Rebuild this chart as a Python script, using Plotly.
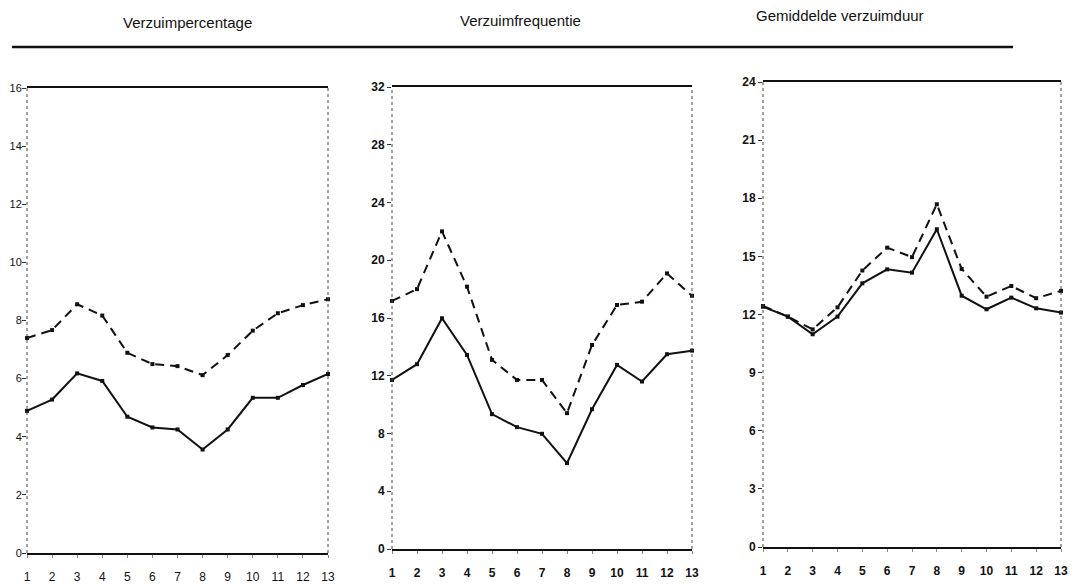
import plotly.graph_objects as go

weeks = list(range(1, 14))
week_labels = [str(w) for w in weeks]

titles = ["Verzuimpercentage", "Verzuimfrequentie", "Gemiddelde verzuimduur"]

pct_dashed = [7.4, 7.67, 8.56, 8.17, 6.89, 6.5, 6.43, 6.12, 6.81, 7.65, 8.25, 8.53, 8.73]
pct_solid = [4.89, 5.28, 6.18, 5.92, 4.69, 4.32, 4.25, 3.56, 4.25, 5.34, 5.34, 5.78, 6.16]

freq_dashed = [17.18, 18.0, 22.0, 18.17, 13.1, 11.71, 11.71, 9.41, 14.13, 16.9, 17.13, 19.09, 17.54]
freq_solid = [11.71, 12.8, 15.98, 13.44, 9.34, 8.44, 7.98, 5.95, 9.68, 12.75, 11.6, 13.49, 13.74]

duur_dashed = [12.44, 11.89, 11.23, 12.37, 14.27, 15.45, 14.96, 17.69, 14.35, 12.92, 13.47, 12.84, 13.22]
duur_solid = [12.4, 11.89, 10.98, 11.89, 13.61, 14.33, 14.16, 16.4, 12.97, 12.27, 12.87, 12.32, 12.1]

y_max = [16, 32, 24]
y_step = [2, 4, 3]

# page body has an 8px margin; the figure is placed at (8, 8)
OFF = 8
W, H = 1081 - OFF, 584 - OFF
panels_px = [  # x0, x1, ytop, ybottom in window pixels
    (27, 328, 88, 553),
    (392, 692, 87, 549),
    (763, 1061, 82, 547),
]
tick_bold = [False, True, True]
ytick_size = [11, 12, 12]
ytick_standoff = [-2, 0, 0]

series = [(pct_dashed, pct_solid), (freq_dashed, freq_solid), (duur_dashed, duur_solid)]


def fx(px):
    return (px - OFF) / W


def fy(py):
    return 1 - (py - OFF) / H


fig = go.Figure()
layout = dict(
    width=W, height=H, margin=dict(l=0, r=0, t=0, b=0, pad=0, autoexpand=False),
    paper_bgcolor="white", plot_bgcolor="white", showlegend=False,
    font=dict(family="Liberation Sans, Arial, sans-serif", color="#111111"),
)
shapes = []
annotations = []
for i, ((dash_vals, solid_vals), (x0, x1, yt, yb)) in enumerate(zip(series, panels_px)):
    n = "" if i == 0 else str(i + 1)
    xa, ya = "x" + n, "y" + n
    fam = "Liberation Sans, Arial, sans-serif"
    tfont = dict(family=fam, size=12, color="#111111")
    yfont = dict(family=fam, size=ytick_size[i], color="#111111")
    if tick_bold[i]:
        tfont["weight"] = "bold"
        yfont["weight"] = "bold"
    fig.add_trace(go.Scatter(x=weeks, y=dash_vals, mode="lines+markers", xaxis=xa, yaxis=ya,
                             line=dict(color="#111111", width=2, dash="9px,6px"),
                             marker=dict(symbol="square", size=4, color="#111111"), cliponaxis=False))
    fig.add_trace(go.Scatter(x=weeks, y=solid_vals, mode="lines+markers", xaxis=xa, yaxis=ya,
                             line=dict(color="#111111", width=2),
                             marker=dict(symbol="square", size=4, color="#111111"), cliponaxis=False))
    layout["xaxis" + n] = dict(
        domain=[fx(x0), fx(x1)], range=[1, 13], anchor=ya, automargin=False,
        tickmode="array", tickvals=weeks, ticktext=week_labels,
        ticks="outside", ticklen=3, tickwidth=1, tickcolor="#888",
        showline=True, linewidth=2, linecolor="#111111", mirror=True,
        showgrid=False, zeroline=False, tickfont=tfont, ticklabelstandoff=9,
    )
    layout["yaxis" + n] = dict(
        domain=[fy(yb), fy(yt)], range=[0, y_max[i]], anchor=xa, automargin=False,
        tickmode="linear", tick0=0, dtick=y_step[i],
        ticks="outside", ticklen=4, tickwidth=1, tickcolor="#333",
        showline=False, showgrid=False, zeroline=False, tickfont=yfont,
        ticklabelstandoff=ytick_standoff[i],
    )
    for xd in (0, 1):
        shapes.append(dict(type="line", xref=xa + " domain", yref=ya + " domain",
                           x0=xd, x1=xd, y0=0, y1=1,
                           line=dict(color="#444444", width=1, dash="dot")))

title_pos = [(187, 22), (520, 20), (840, 16)]
for t, (tx, ty) in zip(titles, title_pos):
    annotations.append(dict(text=t, x=fx(tx), y=fy(ty), xref="paper", yref="paper",
                            showarrow=False, xanchor="center", yanchor="middle",
                            font=dict(family="Liberation Sans, Arial, sans-serif", size=15, color="#111111")))

shapes.append(dict(type="line", xref="paper", yref="paper", x0=fx(12), x1=fx(1013),
                   y0=fy(47), y1=fy(47), line=dict(color="#111111", width=2.5)))

layout["shapes"] = shapes
layout["annotations"] = annotations
fig.update_layout(**layout)
fig.write_html("out.html")
